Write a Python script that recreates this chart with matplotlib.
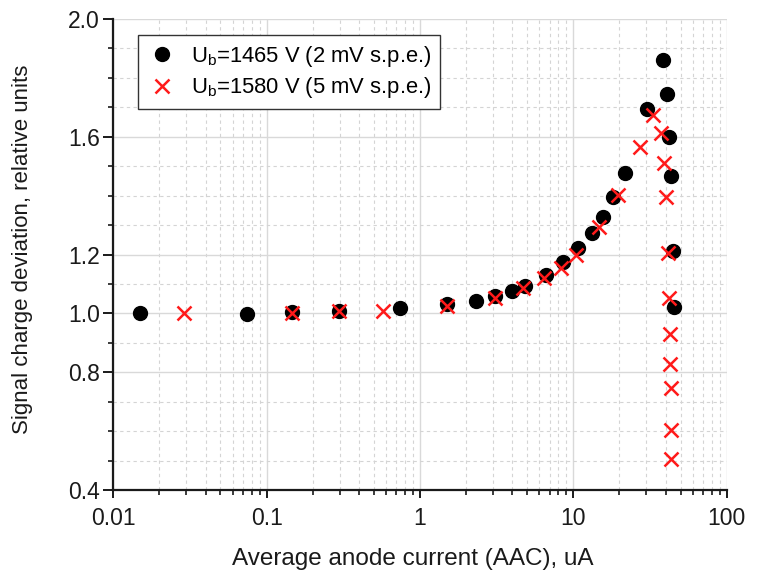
import matplotlib
matplotlib.use("Agg")
import matplotlib.pyplot as plt
from matplotlib.ticker import FixedLocator, FixedFormatter, LogLocator, NullFormatter

plt.rcParams['font.family'] = ['Liberation Sans', 'DejaVu Sans']
plt.rcParams['mathtext.fontset'] = 'custom'
plt.rcParams['mathtext.rm'] = 'Liberation Sans'

# Ub = 1465 V (2 mV s.p.e.)
aac_1465 = [0.015, 0.075, 0.147, 0.295, 0.745, 1.49, 2.31, 3.08, 4.0, 4.84,
            6.6, 8.6, 10.8, 13.2, 15.5, 18.2, 21.7, 30.1, 38.6, 41.0,
            42.3, 43.2, 44.9, 45.3]
dev_1465 = [1.000, 0.998, 1.005, 1.008, 1.018, 1.031, 1.042, 1.059, 1.077, 1.094,
            1.130, 1.176, 1.221, 1.274, 1.328, 1.396, 1.476, 1.693, 1.861, 1.745,
            1.598, 1.466, 1.213, 1.023]

# Ub = 1580 V (5 mV s.p.e.)
aac_1580 = [0.029, 0.147, 0.295, 0.577, 1.49, 3.08, 4.72, 6.47, 8.27, 10.4,
            14.8, 19.6, 27.2, 33.2, 37.3, 39.0, 40.2, 41.6, 42.3, 42.8,
            42.8, 43.2, 43.4, 43.6]
dev_1580 = [1.000, 1.002, 1.009, 1.009, 1.026, 1.053, 1.085, 1.119, 1.153, 1.198,
            1.294, 1.402, 1.564, 1.674, 1.614, 1.510, 1.396, 1.206, 1.053, 0.929,
            0.827, 0.748, 0.604, 0.505]

y_ticks = [0.4, 0.8, 1.0, 1.2, 1.6, 2.0]
y_ticklabels = ['0.4', '0.8', '1.0', '1.2', '1.6', '2.0']
y_minor = [0.5, 0.6, 0.7, 0.9, 1.1, 1.3, 1.4, 1.5, 1.7, 1.8, 1.9]
x_ticks = [0.01, 0.1, 1, 10, 100]
x_ticklabels = ['0.01', '0.1', '1', '10', '100']

fig = plt.figure(figsize=(7.59, 5.74), dpi=100)
ax = fig.add_axes([0.1493, 0.1463, 0.8081, 0.8206])

ax.set_xscale('log')
ax.set_xlim(0.01, 100)
ax.set_ylim(0.4, 2.0)

ax.xaxis.set_major_locator(FixedLocator(x_ticks))
ax.xaxis.set_major_formatter(FixedFormatter(x_ticklabels))
ax.xaxis.set_minor_locator(LogLocator(base=10, subs=range(2, 10)))
ax.xaxis.set_minor_formatter(NullFormatter())
ax.yaxis.set_major_locator(FixedLocator(y_ticks))
ax.yaxis.set_major_formatter(FixedFormatter(y_ticklabels))
ax.yaxis.set_minor_locator(FixedLocator(y_minor))

ax.grid(True, which='major', color='#d9d9d9', linewidth=1.0, linestyle='-')
ax.grid(True, which='minor', color='#d4d4d4', linewidth=0.8, linestyle=(0, (3, 3)))
ax.set_axisbelow(True)

for side in ('top', 'right'):
    ax.spines[side].set_visible(False)
for side in ('left', 'bottom'):
    ax.spines[side].set_linewidth(1.6)
    ax.spines[side].set_color('#1a1a1a')

ax.tick_params(axis='y', which='major', direction='out', length=7, width=1.4,
               labelsize=16.5, colors='#1a1a1a', pad=2.5)
ax.tick_params(axis='y', which='minor', direction='out', length=3.5, width=1.2, colors='#1a1a1a')
ax.tick_params(axis='x', which='major', direction='out', length=6, width=1.4,
               labelsize=16.5, colors='#1a1a1a', pad=6)
ax.tick_params(axis='x', which='minor', direction='out', length=3.5, width=1.2, colors='#1a1a1a')

ax.plot(aac_1465, dev_1465, linestyle='none', marker='o', markersize=10,
        color='black', label=r'U$_\mathregular{b}$=1465 V (2 mV s.p.e.)', zorder=3)
ax.plot(aac_1580, dev_1580, linestyle='none', marker='x', markersize=9.5,
        markeredgewidth=1.8, color='#ff1a1a', label=r'U$_\mathregular{b}$=1580 V (5 mV s.p.e.)', zorder=4)

leg = ax.legend(loc='upper left', bbox_to_anchor=(0.0403, 0.966), borderaxespad=0,
                fontsize=15.8, frameon=True, fancybox=False, edgecolor='#333333', framealpha=1,
                handletextpad=0.6, borderpad=0.4, labelspacing=0.3, handlelength=1.4)
leg.get_frame().set_linewidth(1.0)

ax.set_xlabel('Average anode current (AAC), uA', fontsize=17.5, color='#1a1a1a', va='baseline')
ax.xaxis.set_label_coords(0.4886, -0.159)
ax.set_ylabel('Signal charge deviation, relative units', fontsize=16, color='#1a1a1a')
ax.yaxis.set_label_coords(-0.131, 0.51)

fig.savefig('out.png', dpi=100)
